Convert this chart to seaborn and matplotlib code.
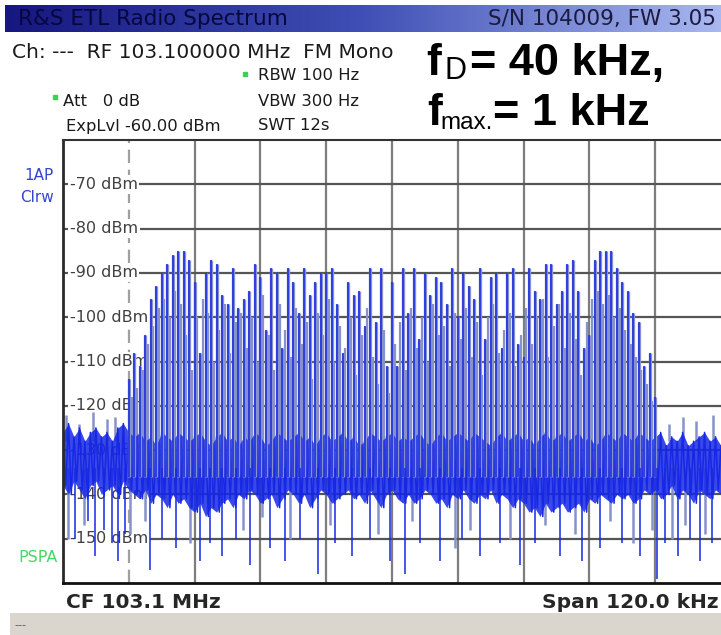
import numpy as np
import pandas as pd
import matplotlib
matplotlib.use("Agg")
import matplotlib.pyplot as plt
from matplotlib.colors import LinearSegmentedColormap
from matplotlib.patches import Rectangle
from matplotlib.lines import Line2D
import seaborn as sns

# ---------------- data ----------------
line_khz = list(range(-48, 49))
line_peak_dbm = [
    -114, -108, -111, -104, -96, -93, -90, -88, -86, -85,
    -85, -87, -92, -108, -90, -87, -88, -95, -97, -89,
    -98, -96, -94, -88, -91, -103, -89, -90, -107, -89,
    -92, -99, -89, -95, -92, -90, -90, -89, -97, -108,
    -92, -95, -94, -102, -89, -101, -89, -111, -92, -111,
    -89, -99, -89, -105, -90, -95, -91, -92, -97, -89,
    -100, -90, -93, -96, -89, -105, -91, -90, -107, -90,
    -89, -106, -109, -89, -94, -96, -88, -88, -97, -94,
    -88, -87, -94, -107, -104, -87, -85, -85, -85, -89,
    -92, -94, -99, -101, -111, -108, -118,
]

# fainter sweep samples between the Bessel lines
mid_khz = [k + 0.5 for k in range(-48, 48)]
mid_peak_dbm = [
    -118, -116, -112, -106, -102, -98, -96, -100, -94, -97,
    -104, -112, -100, -96, -99, -110, -103, -97, -108, -101,
    -99, -107, -100, -110, -95, -104, -112, -97, -103, -109,
    -98, -106, -101, -114, -99, -104, -96, -110, -102, -107,
    -100, -113, -104, -98, -109, -115, -103, -117, -106, -101,
    -112, -98, -107, -100, -110, -97, -104, -102, -111, -99,
    -105, -98, -109, -101, -113, -100, -97, -108, -103, -99,
    -111, -104, -98, -106, -100, -96, -109, -102, -97, -107,
    -99, -105, -113, -101, -96, -94, -97, -95, -100, -98,
    -103, -106, -109, -112, -115, -119,
]

noise_khz = list(range(-60, 61))
noise_top_dbm = [
    -126, -124, -127, -125, -128, -126, -125, -127, -126, -128, -125, -124, -126,
    -127, -126, -128, -127, -129, -126, -127, -128, -126, -127,
    -128, -127, -126, -128, -129, -127, -126, -128, -127, -129,
    -127, -128, -126, -127, -129, -128, -126, -127, -128, -127,
    -126, -128, -127, -129, -127, -126, -128, -127, -126, -128,
    -127, -129, -128, -126, -127, -128, -127, -126, -128, -127,
    -128, -127, -126, -128, -129, -127, -126, -128, -127, -126,
    -127, -128, -126, -127, -128, -129, -127, -126, -128, -127,
    -126, -128, -127, -129, -127, -126, -128, -127, -126, -128,
    -127, -126, -128, -127, -129, -128, -126, -127, -128, -126,
    -127, -128, -126, -127, -128,
    -127, -126, -129, -127, -128, -126, -129, -128, -127, -126, -128, -127, -129,
]
noise_bot_dbm = [
    -138, -140, -137, -139, -141, -138, -137, -140, -139, -138, -140, -137, -139,
    -140, -141, -139, -142, -140, -141, -143, -140, -142, -141,
    -143, -144, -142, -145, -143, -144, -142, -141, -143, -140,
    -141, -139, -140, -142, -141, -140, -143, -141, -139, -140,
    -142, -140, -143, -141, -139, -140, -142, -141, -140, -139,
    -141, -140, -142, -139, -141, -143, -140, -139, -141, -142,
    -140, -142, -141, -139, -140, -142, -141, -143, -140, -141,
    -139, -141, -142, -140, -141, -139, -142, -140, -141, -143,
    -141, -142, -144, -143, -145, -142, -144, -143, -142, -144,
    -143, -142, -144, -141, -142, -140, -141, -142, -140, -141,
    -140, -142, -141, -139, -140,
    -139, -141, -140, -138, -141, -139, -140, -142, -139, -140, -141, -139, -140,
]

dip_khz = [-57.8, -55.4, -54.2, -52.5, -51.1, -50.0, -48.7, -44.1, -42.0, -39.4,
           -35.0, -33.2, -31.0, -28.4, -25.9, -22.2, -19.5, -16.8, -13.5, -10.4,
           -7.3, -4.0, -0.4, 2.4, 5.1, 8.8, 12.8, 16.1, 19.7, 23.3,
           26.1, 30.6, 34.7, 37.9, 42.0, 45.2, 48.3, 49.8, 52.2, 54.4,
           56.2, 58.4]
dip_dbm = [-150, -146, -154, -148, -151, -155, -149, -157, -150, -152,
           -155, -151, -154, -150, -156, -152, -155, -150, -158, -151,
           -154, -150, -155, -158, -151, -155, -150, -154, -151, -156,
           -151, -154, -155, -152, -151, -154, -159, -151, -154, -150,
           -155, -151]

light_dip_khz = [-59.1, -56.2, -47.8, -45.0, -36.8, -27.2, -23.7, -18.6, -11.3, -2.5,
                 3.7, 11.5, 14.2, 21.5, 27.9, 33.4, 39.8, 44.0, 47.4, 51.1,
                 53.4, 57.1]
light_dip_dbm = [-150, -147, -149, -146, -151, -148, -145, -150, -147, -149,
                 -146, -152, -148, -150, -147, -149, -146, -151, -148, -150,
                 -147, -149]

spur_khz = [-59.5, -57.0, -54.5, -52.0, -50.5, 50.5, 53.0, 55.5, 58.5]
spur_dbm = [-122, -124, -121.5, -123, -122.5, -124, -122.5, -123.5, -122]

grid_khz = [-48, -36, -24, -12, 0, 12, 24, 36, 48]
level_dbm = [-70, -80, -90, -100, -110, -120, -130, -140, -150]
level_labels = [f"{v} dBm" for v in level_dbm]

# ---------------- figure ----------------
W, H = 721, 635
sns.set_theme(style="white")
plt.rcParams['font.family'] = ['DejaVu Sans']

DARK = '#1628e4'
LIGHT = '#8791cc'

fig = plt.figure(figsize=(W / 100, H / 100), dpi=100)
fig.patch.set_facecolor('white')


def fx(x):
    return x / W


def fy(y):
    return 1 - y / H


# title bar
axt = fig.add_axes([fx(5), fy(32), 716 / W, 27 / H])
cmap = LinearSegmentedColormap.from_list('bar', ['#16177f', '#3f4fb5', '#a9b8f0'])
axt.imshow(np.linspace(0, 1, 256).reshape(1, -1), aspect='auto', cmap=cmap,
           extent=[0, 1, 0, 1])
axt.set_axis_off()
fig.text(fx(18), fy(19), "R&S ETL Radio Spectrum", fontsize=15.5, color='#070740',
         va='center', ha='left')
fig.text(fx(716), fy(19), "S/N 104009, FW 3.05", fontsize=15.5, color='#1b1b3d',
         va='center', ha='right')

# info block
fig.text(fx(12), fy(52), "Ch: ---  RF 103.100000 MHz  FM Mono", fontsize=14.5,
         color='#1a1a1a', va='center')
small = dict(fontsize=11.8, color='#1a1a1a', va='center')
fig.text(fx(258), fy(76), "RBW 100 Hz", **small)
fig.text(fx(63), fy(101), "Att   0 dB", **small)
fig.text(fx(258), fy(101), "VBW 300 Hz", **small)
fig.text(fx(66), fy(126), "ExpLvl -60.00 dBm", **small)
fig.text(fx(258), fy(126), "SWT 12s", **small)
for (gx, gy) in [(245, 74), (55, 97)]:
    fig.add_artist(Line2D([fx(gx)], [fy(gy)], marker='s', ms=3, color='#3ccf5a',
                          transform=fig.transFigure))

big = dict(family=['Liberation Sans', 'DejaVu Sans'], color='black', va='baseline')
fig.text(fx(426), fy(75), "f", fontsize=32, weight='bold', **big)
fig.text(fx(445), fy(79), "D", fontsize=22, **big)
fig.text(fx(470), fy(75), "= 40 kHz,", fontsize=32.5, weight='bold', **big)
fig.text(fx(427), fy(125), "f", fontsize=32, weight='bold', **big)
fig.text(fx(440), fy(129), "max.", fontsize=17.5, **big)
fig.text(fx(493), fy(125), "= 1 kHz", fontsize=32.5, weight='bold', **big)

# side labels
fig.text(fx(54), fy(176), "1AP", fontsize=11, color='#3545d0', ha='right', va='center')
fig.text(fx(54), fy(197), "Clrw", fontsize=11, color='#3545d0', ha='right', va='center')
fig.text(fx(58), fy(557), "PSPA", fontsize=11.5, color='#45d866', ha='right', va='center')

# bottom texts
fig.text(fx(66), fy(602), "CF 103.1 MHz", fontsize=14.5, weight='bold',
         color='#262626', va='center')
fig.text(fx(719), fy(602), "Span 120.0 kHz", fontsize=14.5, weight='bold',
         color='#262626', va='center', ha='right')
fig.add_artist(Rectangle((fx(10), 0), 711 / W, 22 / H, transform=fig.transFigure,
                         facecolor='#dad6ce', edgecolor='none'))
fig.text(fx(14), fy(625), "---", fontsize=8, color='#555555', va='center')

# ---------------- spectrum axes ----------------
ax = fig.add_axes([fx(63), 52 / H, 658 / W, 443 / H])
ax.set_facecolor('white')
ax.set_xlim(-60, 60)
ax.set_ylim(-160, -60)
ax.set_xticks(grid_khz)
ax.set_yticks(level_dbm)
ax.tick_params(length=0, labelbottom=False, labelleft=False)
ax.set_axisbelow(True)
ax.grid(True, lw=1.6)
for gl in ax.get_xgridlines():
    gl.set_color('#7d7d7d')
for gl in ax.get_ygridlines():
    gl.set_color('#555555')
first = ax.get_xgridlines()[0]
first.set_color('#a0a0a0')
first.set_dashes([6, 3])

for v, lab in zip(level_dbm, level_labels):
    ax.text(-58.8, v, lab, fontsize=11.5, color='#404040', va='center', ha='left',
            zorder=1, bbox=dict(boxstyle='square,pad=0.12', fc='white', ec='none'))

# noise floor band + zigzag trace
ax.fill_between(noise_khz, noise_bot_dbm, noise_top_dbm, color=DARK, alpha=0.85,
                lw=0, zorder=2.2)
zig = pd.DataFrame({
    'khz': noise_khz + [k + 0.5 for k in noise_khz],
    'dbm': noise_top_dbm + noise_bot_dbm,
}).sort_values('khz')
sns.lineplot(data=zig, x='khz', y='dbm', sort=False, estimator=None, color=DARK,
             lw=1.1, ax=ax, zorder=2.3)

ax.vlines(light_dip_khz, -134, light_dip_dbm, color=LIGHT, lw=1.8, zorder=2.1)
ax.vlines(spur_khz, -128, spur_dbm, color=LIGHT, lw=1.8, zorder=2.1)
ax.vlines(dip_khz, -134, dip_dbm, color=DARK, lw=1.1, zorder=2.5)

# FM Bessel lines
ax.vlines(mid_khz, -136, mid_peak_dbm, color=LIGHT, lw=1.6, zorder=2.0)
ax.vlines(line_khz, -136, line_peak_dbm, color=LIGHT, lw=2.4, zorder=2.4)
ax.vlines(line_khz, -136, line_peak_dbm, color=DARK, lw=1.1, zorder=2.6)

ax.set_xlabel('')
ax.set_ylabel('')
for s in ['left', 'bottom', 'top']:
    ax.spines[s].set_visible(True)
ax.spines['left'].set_color('#2a2a2a')
ax.spines['left'].set_linewidth(2)
ax.spines['bottom'].set_color('#111111')
ax.spines['bottom'].set_linewidth(2)
ax.spines['top'].set_color('#333333')
ax.spines['top'].set_linewidth(1.5)
ax.spines['right'].set_visible(False)
for s in ['left', 'bottom', 'top']:
    ax.spines[s].set_zorder(3)

fig.savefig('out.png', dpi=100)
